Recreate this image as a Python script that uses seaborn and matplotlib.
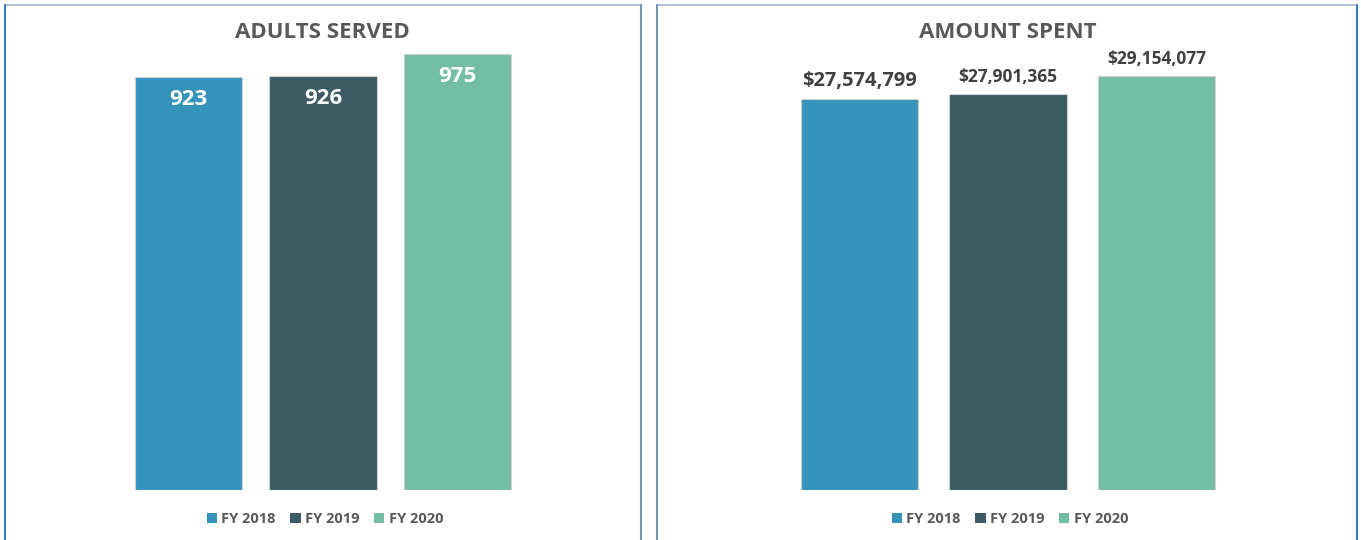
import matplotlib.pyplot as plt
import pandas as pd
import seaborn as sns
from matplotlib.lines import Line2D
from matplotlib.patches import Patch

years = ["FY 2018", "FY 2019", "FY 2020"]
adults_served = [923, 926, 975]
amount_spent = [27574799, 27901365, 29154077]
colors = ["#3593BA", "#3A5A64", "#74BDA5"]

W, H = 1361, 540

sns.set_style("white")
plt.rcParams["font.family"] = ["Open Sans", "DejaVu Sans"]

fig = plt.figure(figsize=(W / 100, H / 100), dpi=100)


def fx(px):
    return px / W


def fy(py):
    return 1 - py / H


# panel frames
frame_side = "#7393B8"
frame_top = "#A3B6CA"
frame_blue = "#2F7BC4"
for x0, x1, lc, rc in [(5, 641, frame_blue, frame_side), (657, 1357, frame_side, frame_blue)]:
    fig.add_artist(Line2D([fx(x0), fx(x1)], [fy(5), fy(5)], color=frame_top, lw=1.2))
    fig.add_artist(Line2D([fx(x0), fx(x0)], [fy(5), 0], color=lc, lw=1.5))
    fig.add_artist(Line2D([fx(x1), fx(x1)], [fy(5), 0], color=rc, lw=1.5))


def panel(left_px, right_px, top_px, df, col, ymax, width):
    ax = fig.add_axes([fx(left_px), fy(490), fx(right_px - left_px), (490 - top_px) / H])
    sns.barplot(data=df, x="year", y=col, hue="year", palette=colors, ax=ax,
                width=width, saturation=1, legend=False,
                edgecolor="#CFCFCF", linewidth=0.8)
    ax.set_xlim(-0.5, 2.5)
    ax.set_ylim(0, ymax)
    ax.axis("off")
    return ax


df_a = pd.DataFrame({"year": years, "adults": adults_served})
df_m = pd.DataFrame({"year": years, "amount": amount_spent})

ax1 = panel(121.5, 524.5, 34, df_a, "adults", 1020, 0.8)
ax2 = panel(785.5, 1230.5, 29, df_m, "amount", 32.5e6, 0.79)

for i, v in enumerate(adults_served):
    ax1.annotate(f"{v:,}", (i, v), xytext=(0, -16), textcoords="offset points",
                 ha="center", va="center", color="white", fontsize=16, fontweight="bold")

amt_sizes = [14.5, 12.5, 12.5]
for i, v in enumerate(amount_spent):
    ax2.annotate(f"${v:,}", (i, v), xytext=(0, 6), textcoords="offset points",
                 ha="center", va="bottom", color="#404040", fontsize=amt_sizes[i],
                 fontweight="bold")

fig.text(fx(322), fy(33), "ADULTS SERVED", ha="center", va="center",
         fontsize=16, fontweight="bold", color="#595959")
fig.text(fx(1008), fy(33), "AMOUNT SPENT", ha="center", va="center",
         fontsize=16, fontweight="bold", color="#595959")

handles = [Patch(facecolor=c, edgecolor="none") for c in colors]
for ax, cx in [(ax1, 325), (ax2, 1010)]:
    ax.legend(handles, years, loc="center", bbox_to_anchor=(fx(cx), fy(519)),
              bbox_transform=fig.transFigure, ncol=3, frameon=False,
              handlelength=0.7, handleheight=0.7, handletextpad=0.3,
              columnspacing=1.0, prop={"size": 10.5, "weight": "bold"},
              labelcolor="#595959")

fig.savefig("out.png", dpi=100)
